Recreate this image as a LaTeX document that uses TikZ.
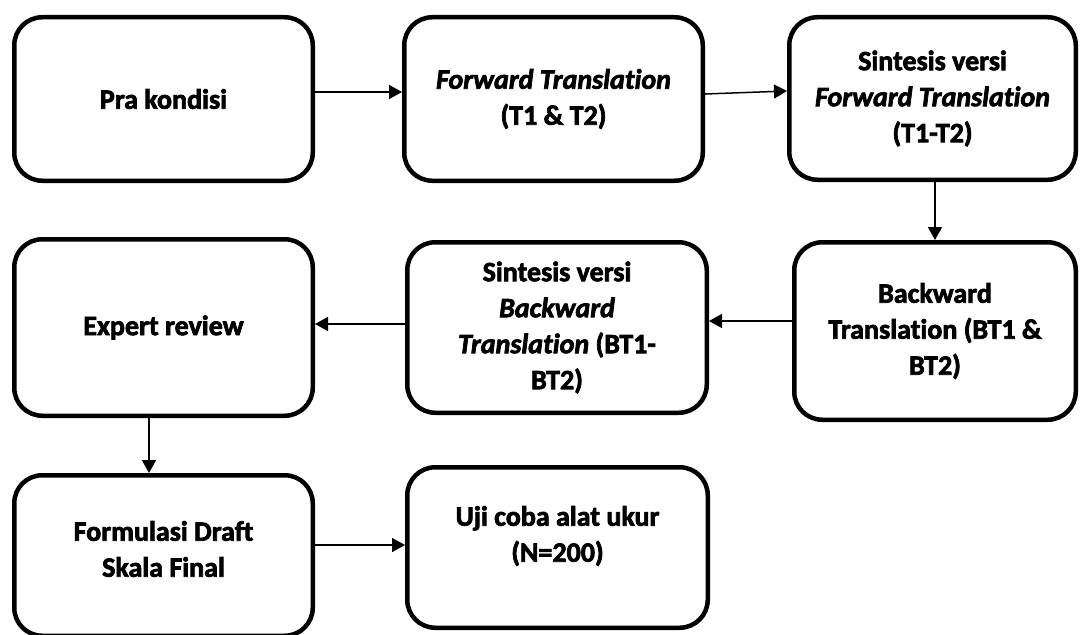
\documentclass[tikz,border=0pt]{standalone}
\usepackage{fontspec}
\setmainfont{Carlito}[RawFeature=-liga]
\usetikzlibrary{arrows.meta}
\newcommand{\outl}{\special{pdf:literal direct 2 Tr 0.7 w}}
\begin{document}
\begin{tikzpicture}[x=1pt,y=-1pt,
  box/.style={draw=black,line width=4.5pt,rounded corners=28pt,inner sep=0pt,
    align=center,font=\fontsize{28}{36}\selectfont\bfseries\outl},
  txt/.style={inner sep=0pt,align=center,font=\fontsize{28}{36}\selectfont\bfseries\outl},
  arr/.style={line width=1.5pt,-{Triangle[length=13pt,width=14pt]}}]
\useasboundingbox (0,0) rectangle (1083,634);
\node[box,minimum width=298.5pt,minimum height=163.5pt] (b1) at (163.5,99) {Pra kondisi};
\node[box,minimum width=298.5pt,minimum height=163.5pt] (b2) at (553.5,99) {\textit{Forward Translation}\\(T1 \& T2)};
\node[box,minimum width=286.5pt,minimum height=162.5pt] (b3) at (932.5,98.5) {Sintesis versi\\\textit{Forward Translation}\\(T1-T2)};
\node[box,minimum width=281.5pt,minimum height=177.5pt] (b4) at (935,331) {Backward\\Translation (BT1 \&\\BT2)};
\node[box,minimum width=299.5pt,minimum height=170.5pt] (b5) at (557,327.5) {Sintesis versi\\\textit{Backward}\\\textit{Translation} (BT1-\\BT2)};
\node[box,minimum width=298.5pt,minimum height=176.5pt] (b6) at (163.5,327.5) {Expert review};
\node[box,minimum width=298.5pt,minimum height=160.5pt] (b7) at (163.5,555.5) {};
\node[txt] (t7) at (163.5,549) {Formulasi Draft\\Skala Final};
\node[box,minimum width=300.5pt,minimum height=160.5pt] (b8) at (557.5,547.5) {};
\node[txt] (t8) at (557.5,536) {Uji coba alat ukur\\(N=200)};
\draw[arr] ([yshift=7pt]b1.east) -- ([yshift=7pt]b2.west);
\draw[arr] ([yshift=5pt]b2.east) -- ([yshift=7.5pt]b3.west);
\draw[arr] ([xshift=2.5pt]b3.south) -- (b4.north);
\draw[arr] ([yshift=10pt]b4.west) -- ([yshift=6.5pt]b5.east);
\draw[arr] ([yshift=3.5pt]b5.west) -- ([yshift=3.5pt]b6.east);
\draw[arr] ([xshift=-14.5pt]b6.south) -- ([xshift=-14.5pt]b7.north);
\draw[arr] ([yshift=10.5pt]b7.east) -- ([yshift=2.5pt]b8.west);
\end{tikzpicture}
\end{document}
